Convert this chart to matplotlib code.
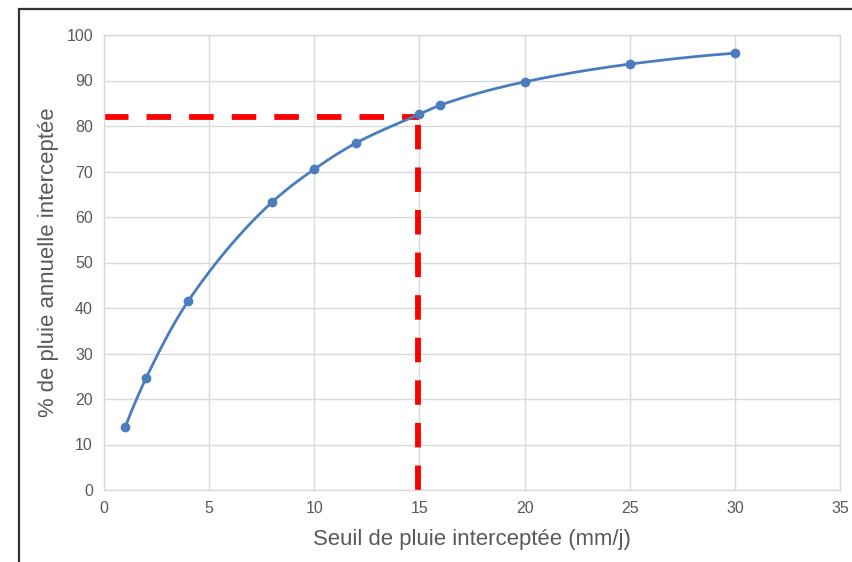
import numpy as np
import matplotlib
matplotlib.use("Agg")
import matplotlib.pyplot as plt
from matplotlib.patches import Rectangle

plt.rcParams['font.family'] = ['Liberation Sans', 'DejaVu Sans']

# Seuil de pluie (mm/j) et part de pluie annuelle interceptée (%)
seuil = [1, 2, 4, 8, 10, 12, 15, 16, 20, 25, 30]
pct_interceptee = [13.8, 24.6, 41.5, 63.3, 70.5, 76.3, 82.6, 84.6, 89.7, 93.6, 96.0]

# Lecture du seuil de référence
seuil_ref = 15
pct_ref = 82

x_ticks = [0, 5, 10, 15, 20, 25, 30, 35]
y_ticks = [0, 10, 20, 30, 40, 50, 60, 70, 80, 90, 100]


def smooth_curve(x, y, n=60):
    """Courbe lissée par interpolation d'Hermite monotone (type PCHIP)."""
    x = np.asarray(x, float)
    y = np.asarray(y, float)
    h = np.diff(x)
    d = np.diff(y) / h
    m = np.zeros_like(y)
    for k in range(1, len(x) - 1):
        if d[k - 1] * d[k] > 0:
            w1 = 2 * h[k] + h[k - 1]
            w2 = h[k] + 2 * h[k - 1]
            m[k] = (w1 + w2) / (w1 / d[k - 1] + w2 / d[k])
    m[0] = ((2 * h[0] + h[1]) * d[0] - h[0] * d[1]) / (h[0] + h[1])
    m[-1] = ((2 * h[-1] + h[-2]) * d[-1] - h[-1] * d[-2]) / (h[-1] + h[-2])
    xs, ys = [], []
    t = np.linspace(0, 1, n)
    for k in range(len(x) - 1):
        h00 = 2 * t ** 3 - 3 * t ** 2 + 1
        h10 = t ** 3 - 2 * t ** 2 + t
        h01 = -2 * t ** 3 + 3 * t ** 2
        h11 = t ** 3 - t ** 2
        xs.append(x[k] + t * h[k])
        ys.append(h00 * y[k] + h10 * h[k] * m[k] + h01 * y[k + 1] + h11 * h[k] * m[k + 1])
    return np.concatenate(xs), np.concatenate(ys)


fig = plt.figure(figsize=(8.53, 5.62), dpi=100)
ax = fig.add_axes([104 / 853, 72 / 562, 736 / 853, 455 / 562])

grid_col = '#d9d9d9'
text_col = '#595959'

ax.set_xlim(0, 35)
ax.set_ylim(0, 100)
ax.set_xticks(x_ticks)
ax.set_yticks(y_ticks)
ax.grid(True, color=grid_col, linewidth=1.0)
ax.set_axisbelow(True)
for s in ax.spines.values():
    s.set_color(grid_col)
    s.set_linewidth(1.0)
ax.tick_params(length=0, labelsize=11.5, colors=text_col, pad=8)

xs, ys = smooth_curve(seuil, pct_interceptee)
ax.plot(xs, ys, color='#4a7dbf', linewidth=2.0, zorder=3)
ax.plot(seuil, pct_interceptee, linestyle='none', marker='o', markersize=6,
        color='#4a7dbf', zorder=4)

# Lignes de lecture en tirets rouges
ax.plot([0, seuil_ref], [pct_ref, pct_ref], color='#ff0000', linewidth=4.2,
        dashes=(4.2, 3.1), zorder=2)
ax.plot([seuil_ref - 0.07, seuil_ref - 0.07], [0, pct_ref], color='#ff0000', linewidth=4.2,
        dashes=(4.2, 3.1), zorder=2)

ax.set_xlabel('Seuil de pluie interceptée (mm/j)', fontsize=15.9, color=text_col, labelpad=9)
ax.set_ylabel('% de pluie annuelle interceptée', fontsize=15.9, color=text_col, labelpad=5)

# Cadre du graphique
fig.patches.append(Rectangle((19 / 853, -0.1), 1.2, (562 - 9) / 562 + 0.1,
                             transform=fig.transFigure, fill=False,
                             edgecolor='#333333', linewidth=1.6, zorder=10))

fig.savefig('out.png', dpi=100, facecolor='white')
